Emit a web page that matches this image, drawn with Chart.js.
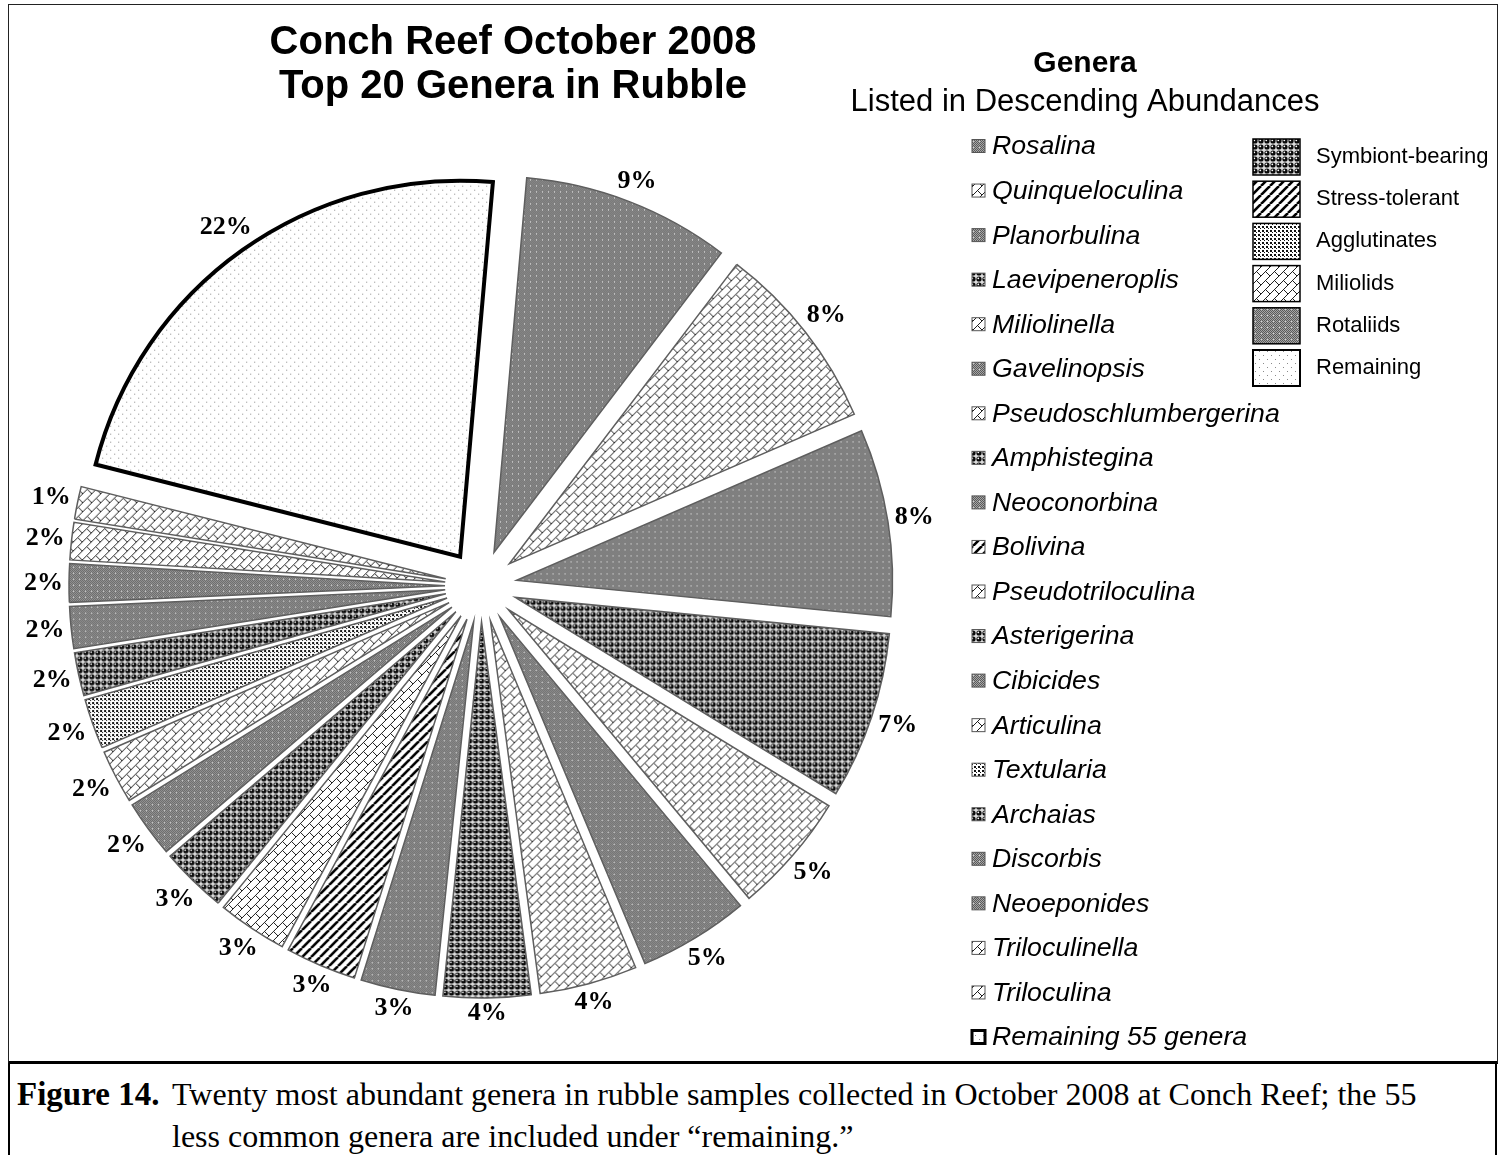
<!DOCTYPE html>
<html>
<head>
<meta charset="utf-8">
<title>Conch Reef October 2008</title>
<script src="https://cdn.jsdelivr.net/npm/chart.js@4.4.1/dist/chart.umd.min.js"></script>
<style>
  body { margin: 0; width: 1499px; height: 1155px; background: #fff; position: relative; overflow: hidden; }
  #frame { position: absolute; left: 8px; top: 4px; width: 1490px; height: 1060px;
           border: 1.5px solid #222; border-bottom: 3px solid #000; box-sizing: border-box; }
  #chart { position: absolute; left: 10px; top: 6px; }
  #caption { position: absolute; left: 8px; top: 1064px; width: 1489px; height: 100px;
             border-left: 2px solid #000; border-right: 2px solid #000; box-sizing: border-box;
             font-family: "Liberation Serif", "Times New Roman", serif; font-size: 32px; line-height: 42px; color: #000; }
  #caption .fig { position: absolute; left: 7px; top: 9px; font-weight: bold; font-size: 33px; }
  #caption .txt { position: absolute; left: 162px; top: 9px; white-space: nowrap; }
</style>
</head>
<body>
<div id="frame"></div>
<canvas id="chart" width="1486" height="1054"></canvas>
<div id="caption">
  <span class="fig">Figure 14.</span>
  <span class="txt">Twenty most abundant genera in rubble samples collected in October 2008 at Conch Reef; the 55<br>less common genera are included under “remaining.”</span>
</div>
<script>
// genera in descending abundance, percent of all specimens
const genera = ['Rosalina', 'Quinqueloculina', 'Planorbulina', 'Laevipeneroplis', 'Miliolinella',
  'Gavelinopsis', 'Pseudoschlumbergerina', 'Amphistegina', 'Neoconorbina', 'Bolivina',
  'Pseudotriloculina', 'Asterigerina', 'Cibicides', 'Articulina', 'Textularia', 'Archaias',
  'Discorbis', 'Neoeponides', 'Triloculinella', 'Triloculina', 'Remaining 55 genera'];
const percent = [8.95, 8.15, 8.05, 7.2, 5.2, 4.75, 4.2, 3.75, 3.2, 3.05, 3.0, 2.85, 2.45, 2.3,
  2.15, 1.85, 1.8, 1.65, 1.6, 1.4, 22.45];
const groupOf = ['Rotaliids', 'Miliolids', 'Rotaliids', 'Symbiont-bearing', 'Miliolids',
  'Rotaliids', 'Miliolids', 'Symbiont-bearing', 'Rotaliids', 'Stress-tolerant', 'Miliolids',
  'Symbiont-bearing', 'Rotaliids', 'Miliolids', 'Agglutinates', 'Symbiont-bearing', 'Rotaliids',
  'Rotaliids', 'Miliolids', 'Miliolids', 'Remaining'];
const groups = ['Symbiont-bearing', 'Stress-tolerant', 'Agglutinates', 'Miliolids', 'Rotaliids', 'Remaining'];

const EXPLODE = 36;      // px each slice is pulled out
const RADIUS = 376;
const SANS = '"Liberation Sans", Arial, sans-serif';
const SERIF = '"Liberation Serif", "Times New Roman", serif';

// small repeating fills, one per group
function tile(size, paint) {
  const c = document.createElement('canvas');
  c.width = c.height = size;
  const g = c.getContext('2d');
  paint(g, size);
  return g.createPattern(c, 'repeat');
}

const fills = {
  'Rotaliids': tile(6, (g, s) => {
    g.fillStyle = '#a6a6a6'; g.fillRect(0, 0, s, s);
    g.fillStyle = '#5a5a5a';
    for (let y = 0; y < s; y++) for (let x = 0; x < s; x++) if ((x + y) % 2 === 0) g.fillRect(x, y, 1, 1);
    g.fillStyle = '#cfcfcf'; g.fillRect(3, 3, 1, 1);
  }),
  'Miliolids': tile(9, (g, s) => {
    g.fillStyle = '#fff'; g.fillRect(0, 0, s, s);
    g.strokeStyle = '#1e1e1e'; g.lineWidth = 1;
    for (const dx of [-s, 0, s]) for (const dy of [-s, 0, s]) {
      g.beginPath();
      g.moveTo(dx, dy + s); g.lineTo(dx + s, dy);
      g.moveTo(dx + s / 2, dy + s / 2); g.lineTo(dx + s, dy + s);
      g.stroke();
    }
  }),
  'Symbiont-bearing': tile(6, (g, s) => {
    g.fillStyle = '#dcdcdc'; g.fillRect(0, 0, s, s);
    g.fillStyle = '#0a0a0a';
    g.beginPath(); g.arc(3, 3, 2.6, 0, Math.PI * 2); g.fill();
    g.fillStyle = '#fff';
    g.beginPath(); g.arc(2.3, 2.3, 0.9, 0, Math.PI * 2); g.fill();
  }),
  'Stress-tolerant': tile(9, (g, s) => {
    g.fillStyle = '#fff'; g.fillRect(0, 0, s, s);
    g.strokeStyle = '#000'; g.lineWidth = 2.6;
    for (const dx of [-s, 0, s]) {
      g.beginPath(); g.moveTo(dx, s); g.lineTo(dx + s, 0); g.stroke();
    }
  }),
  'Agglutinates': tile(4, (g, s) => {
    g.fillStyle = '#fff'; g.fillRect(0, 0, s, s);
    g.fillStyle = '#111';
    g.fillRect(0, 0, 2, 2); g.fillRect(2, 2, 1, 1);
  }),
  'Remaining': tile(8, (g, s) => {
    g.fillStyle = '#fff'; g.fillRect(0, 0, s, s);
    g.fillStyle = '#8a8a8a';
    g.fillRect(1, 1, 1, 1); g.fillRect(5, 5, 1, 1);
  })
};

// every slice is drawn shifted out along its mid angle
const explodeSlices = {
  id: 'explodeSlices',
  beforeDatasetDraw(chart, args) {
    const ctx = chart.ctx;
    args.meta.data.forEach(arc => {
      const mid = (arc.startAngle + arc.endAngle) / 2;
      ctx.save();
      ctx.translate(Math.cos(mid) * EXPLODE, Math.sin(mid) * EXPLODE);
      arc.draw(ctx);
      ctx.restore();
    });
    return false;
  }
};

// rounded percentages just outside each slice
const sliceLabels = {
  id: 'sliceLabels',
  afterDatasetsDraw(chart) {
    const ctx = chart.ctx;
    const values = chart.data.datasets[0].data;
    ctx.save();
    ctx.font = 'bold 26px ' + SERIF;
    ctx.fillStyle = '#000';
    ctx.textAlign = 'center';
    ctx.textBaseline = 'middle';
    chart.getDatasetMeta(0).data.forEach((arc, i) => {
      const mid = (arc.startAngle + arc.endAngle) / 2;
      const cx = Math.cos(mid), cy = Math.sin(mid);
      const text = Math.round(values[i]) + '%';
      const w = ctx.measureText(text).width;
      const r = arc.outerRadius + EXPLODE + 6 + Math.abs(cx) * w / 2 + Math.abs(cy) * 9;
      ctx.fillText(text, arc.x + cx * r, arc.y + cy * r);
    });
    ctx.restore();
  }
};

// title, genus list and group key
const keys = {
  id: 'keys',
  afterDraw(chart) {
    const ctx = chart.ctx;
    const ds = chart.data.datasets[0];
    ctx.save();
    ctx.fillStyle = '#000';
    ctx.textBaseline = 'middle';

    ctx.textAlign = 'center';
    ctx.font = 'bold 40px ' + SANS;
    ctx.fillText('Conch Reef October 2008', 503, 37);
    ctx.fillText('Top 20 Genera in Rubble', 503, 81);

    ctx.font = 'bold 30px ' + SANS;
    ctx.fillText('Genera', 1075, 58);
    ctx.font = '31px ' + SANS;
    ctx.fillText('Listed in Descending Abundances', 1075, 96);

    ctx.textAlign = 'left';
    ctx.font = 'italic 26.7px ' + SANS;
    chart.data.labels.forEach((name, i) => {
      const y = 140 + i * 44.55;
      const last = i === chart.data.labels.length - 1;
      ctx.fillStyle = ds.backgroundColor[i];
      ctx.fillRect(962, y - 6.5, 13, 13);
      ctx.lineWidth = last ? 3 : 1;
      ctx.strokeStyle = last ? '#000' : '#555';
      ctx.strokeRect(962, y - 6.5, 13, 13);
      ctx.fillStyle = '#000';
      ctx.fillText(name, 982, y + 1);
    });

    ctx.font = '22px ' + SANS;
    groups.forEach((name, i) => {
      const top = 133 + i * 42.2;
      ctx.fillStyle = fills[name];
      ctx.fillRect(1243, top, 47, 36);
      ctx.lineWidth = name === 'Remaining' ? 2 : 1.5;
      ctx.strokeStyle = '#000';
      ctx.strokeRect(1243, top, 47, 36);
      ctx.fillStyle = '#000';
      ctx.fillText(name, 1306, top + 18);
    });
    ctx.restore();
  }
};

new Chart(document.getElementById('chart'), {
  type: 'pie',
  data: {
    labels: genera,
    datasets: [{
      data: percent,
      backgroundColor: groupOf.map(g => fills[g]),
      borderColor: groupOf.map(g => g === 'Remaining' ? '#000' : '#5e5e5e'),
      borderWidth: groupOf.map(g => g === 'Remaining' ? 4 : 1.5),
      borderJoinStyle: 'miter'
    }]
  },
  options: {
    responsive: false,
    animation: false,
    events: [],
    rotation: 5,
    radius: RADIUS,
    layout: { padding: { left: 60, right: 604, top: 160, bottom: 54 } },
    plugins: {
      legend: { display: false },
      tooltip: { enabled: false },
      title: { display: false }
    }
  },
  plugins: [explodeSlices, sliceLabels, keys]
});
</script>
</body>
</html>
